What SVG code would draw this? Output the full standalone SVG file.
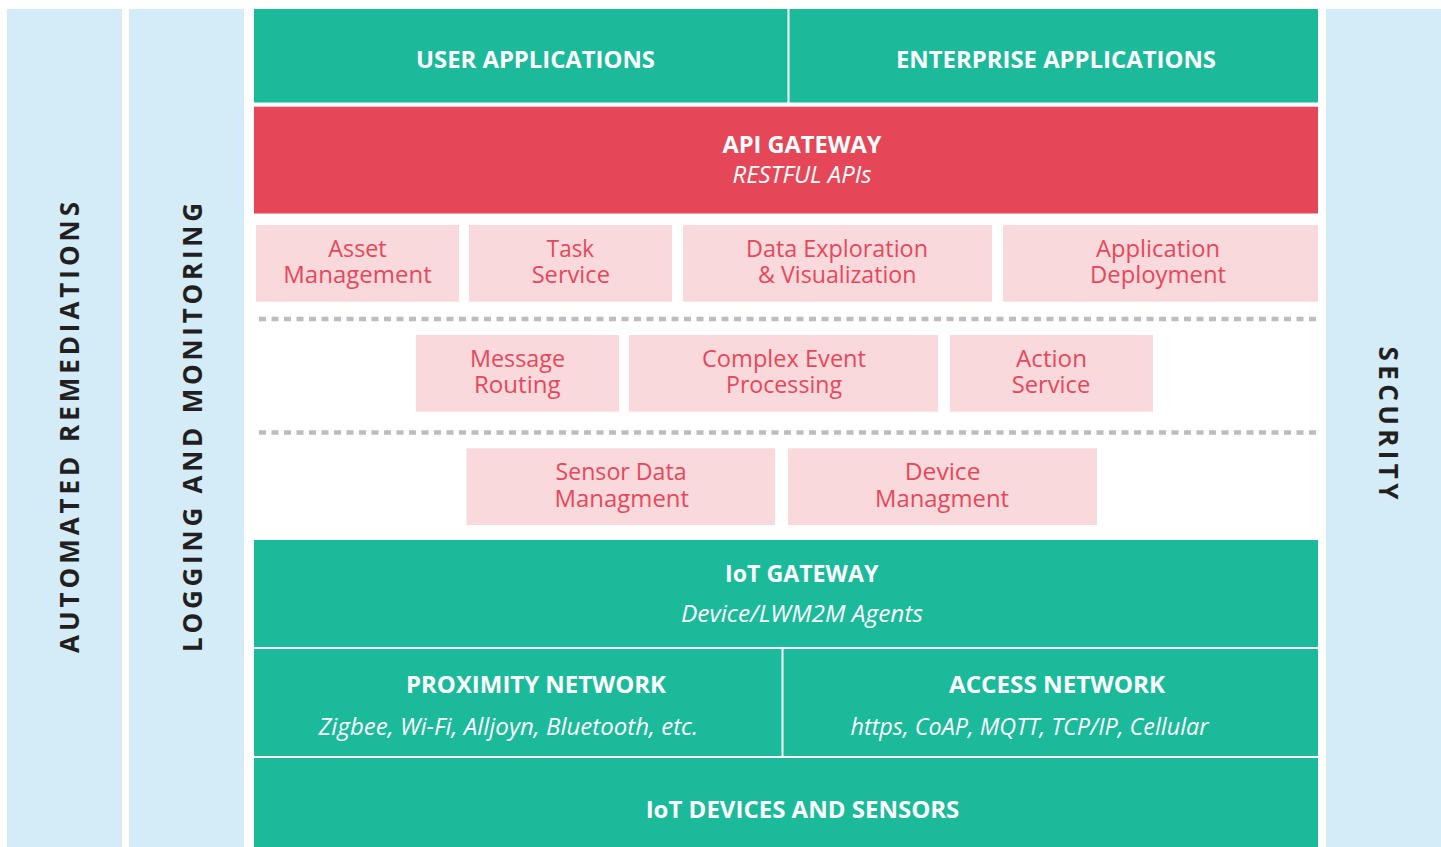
<svg xmlns="http://www.w3.org/2000/svg" width="1441" height="847" viewBox="0 0 1441 847">
  <style>
    .band { fill: #d4ecf8; }
    .teal { fill: #1aba9a; }
    .red { fill: #e64758; }
    .svc { fill: #f9d9dc; }
    .side { font-family: "Open Sans", "Liberation Sans", sans-serif; font-weight: 700; font-size: 26px; fill: #231f20; text-anchor: middle; }
    .title { font-family: "Open Sans", "Liberation Sans", sans-serif; font-weight: 700; font-size: 24px; fill: #ffffff; text-anchor: middle; }
    .sub { font-family: "Open Sans", "Liberation Sans", sans-serif; font-style: italic; font-size: 23px; fill: #ffffff; text-anchor: middle; }
    .svct { font-family: "Open Sans", "Liberation Sans", sans-serif; font-size: 23.5px; fill: #e8475a; text-anchor: middle; }
    .sep { stroke: #bcbdc0; stroke-width: 4.5; stroke-dasharray: 7 5.5; fill: none; }
  </style>

  <rect width="1441" height="847" fill="#ffffff"/>

  <!-- cross-cutting side bands -->
  <g id="automated-remediations">
    <rect class="band" x="7" y="9" width="115" height="838"/>
    <text class="side" transform="translate(70,427.5) rotate(-90)" y="9" textLength="451" lengthAdjust="spacing">AUTOMATED REMEDIATIONS</text>
  </g>
  <g id="logging-monitoring">
    <rect class="band" x="129" y="9" width="115" height="838"/>
    <text class="side" transform="translate(192.5,427.5) rotate(-90)" y="9.5" textLength="449" lengthAdjust="spacing">LOGGING AND MONITORING</text>
  </g>
  <g id="security">
    <rect class="band" x="1326" y="9" width="115" height="838"/>
    <text class="side" transform="translate(1388.5,423) rotate(90)" y="9.5" textLength="153" lengthAdjust="spacing">SECURITY</text>
  </g>

  <!-- application layer -->
  <g id="user-applications">
    <rect class="teal" x="254" y="9" width="533.5" height="93.5"/>
    <text class="title" x="535.5" y="68" textLength="239" lengthAdjust="spacingAndGlyphs">USER APPLICATIONS</text>
  </g>
  <g id="enterprise-applications">
    <rect class="teal" x="789.5" y="9" width="528.5" height="93.5"/>
    <text class="title" x="1056" y="68" textLength="320" lengthAdjust="spacingAndGlyphs">ENTERPRISE APPLICATIONS</text>
  </g>

  <g id="api-gateway">
    <rect class="red" x="254" y="106.7" width="1064" height="106.8"/>
    <text class="title" x="802" y="152.7" textLength="159" lengthAdjust="spacingAndGlyphs">API GATEWAY</text>
    <text class="sub" x="802" y="182.7" textLength="139" lengthAdjust="spacingAndGlyphs">RESTFUL APIs</text>
  </g>

  <!-- service tier 1 -->
  <g id="asset-management">
    <rect class="svc" x="256" y="225" width="203" height="76.7"/>
    <text class="svct" x="357.5" y="256.7" textLength="58.4" lengthAdjust="spacingAndGlyphs">Asset</text>
    <text class="svct" x="357.5" y="282.7" textLength="148.4" lengthAdjust="spacingAndGlyphs">Management</text>
  </g>
  <g id="task-service">
    <rect class="svc" x="469" y="225" width="203" height="76.7"/>
    <text class="svct" x="570.5" y="256.7" textLength="47.3" lengthAdjust="spacingAndGlyphs">Task</text>
    <text class="svct" x="570.8" y="282.7" textLength="78.3" lengthAdjust="spacingAndGlyphs">Service</text>
  </g>
  <g id="data-exploration">
    <rect class="svc" x="683" y="225" width="309" height="76.7"/>
    <text class="svct" x="837" y="256.7" textLength="182" lengthAdjust="spacingAndGlyphs">Data Exploration</text>
    <text class="svct" x="837.3" y="282.7" textLength="158.5" lengthAdjust="spacingAndGlyphs">&amp; Visualization</text>
  </g>
  <g id="application-deployment">
    <rect class="svc" x="1003" y="225" width="315" height="76.7"/>
    <text class="svct" x="1158" y="256.7" textLength="124" lengthAdjust="spacingAndGlyphs">Application</text>
    <text class="svct" x="1158" y="282.7" textLength="136" lengthAdjust="spacingAndGlyphs">Deployment</text>
  </g>

  <!-- service tier 2 -->
  <g id="message-routing">
    <rect class="svc" x="416" y="335" width="203" height="76.7"/>
    <text class="svct" x="517.5" y="366.7" textLength="95" lengthAdjust="spacingAndGlyphs">Message</text>
    <text class="svct" x="517.3" y="393.3" textLength="86.7" lengthAdjust="spacingAndGlyphs">Routing</text>
  </g>
  <g id="complex-event-processing">
    <rect class="svc" x="629" y="335" width="309" height="76.7"/>
    <text class="svct" x="784" y="366.7" textLength="164" lengthAdjust="spacingAndGlyphs">Complex Event</text>
    <text class="svct" x="784" y="393.3" textLength="116" lengthAdjust="spacingAndGlyphs">Processing</text>
  </g>
  <g id="action-service">
    <rect class="svc" x="950" y="335" width="203" height="76.7"/>
    <text class="svct" x="1051.5" y="366.7" textLength="71" lengthAdjust="spacingAndGlyphs">Action</text>
    <text class="svct" x="1051" y="393.3" textLength="78.5" lengthAdjust="spacingAndGlyphs">Service</text>
  </g>

  <!-- service tier 3 -->
  <g id="sensor-data-managment">
    <rect class="svc" x="466.5" y="448.3" width="308.5" height="76.7"/>
    <text class="svct" x="621" y="480" textLength="131" lengthAdjust="spacingAndGlyphs">Sensor Data</text>
    <text class="svct" x="621.8" y="506.7" textLength="134.4" lengthAdjust="spacingAndGlyphs">Managment</text>
  </g>
  <g id="device-managment">
    <rect class="svc" x="788" y="448.3" width="309" height="76.7"/>
    <text class="svct" x="942.6" y="480" textLength="75.7" lengthAdjust="spacingAndGlyphs">Device</text>
    <text class="svct" x="942" y="506.7" textLength="134" lengthAdjust="spacingAndGlyphs">Managment</text>
  </g>

  <!-- tier separators -->
  <g id="connectors">
    <line class="sep" x1="259" y1="319" x2="1318" y2="319"/>
    <line class="sep" x1="259" y1="432.5" x2="1318" y2="432.5"/>
  </g>

  <!-- gateway, networks and devices -->
  <g id="iot-gateway">
    <rect class="teal" x="254" y="540" width="1064" height="107"/>
    <text class="title" x="801.7" y="581.7" textLength="153.4" lengthAdjust="spacingAndGlyphs">IoT GATEWAY</text>
    <text class="sub" x="802" y="621.7" textLength="242" lengthAdjust="spacingAndGlyphs">Device/LWM2M Agents</text>
  </g>
  <g id="proximity-network">
    <rect class="teal" x="254" y="649" width="527.5" height="107"/>
    <text class="title" x="536" y="693.3" textLength="260" lengthAdjust="spacingAndGlyphs">PROXIMITY NETWORK</text>
    <text class="sub" x="508.3" y="735" textLength="379.4" lengthAdjust="spacingAndGlyphs">Zigbee, Wi-Fi, Alljoyn, Bluetooth, etc.</text>
  </g>
  <g id="access-network">
    <rect class="teal" x="783.5" y="649" width="534.5" height="107"/>
    <text class="title" x="1057" y="693.3" textLength="216" lengthAdjust="spacingAndGlyphs">ACCESS NETWORK</text>
    <text class="sub" x="1029.5" y="735" textLength="358" lengthAdjust="spacingAndGlyphs">https, CoAP, MQTT, TCP/IP, Cellular</text>
  </g>
  <g id="iot-devices-sensors">
    <rect class="teal" x="254" y="758" width="1064" height="89"/>
    <text class="title" x="802.5" y="818.3" textLength="313.7" lengthAdjust="spacingAndGlyphs">IoT DEVICES AND SENSORS</text>
  </g>
</svg>
